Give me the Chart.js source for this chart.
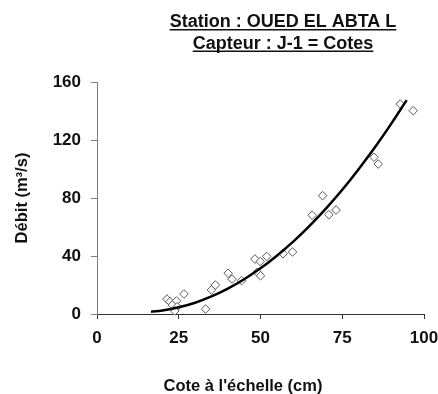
<!DOCTYPE html>
<html>
<head>
<meta charset="utf-8">
<script src="https://cdn.jsdelivr.net/npm/chart.js@4"></script>
<style>
  body { margin: 0; background: #fff; }
  #box { width: 438px; height: 394px; }
</style>
</head>
<body>
<div id="box"><canvas id="graphe" width="438" height="394"></canvas></div>
<script>
// Jaugeages : cote (cm) et débit (m3/s)
const coteX = [21.4, 22.3, 24.3, 26.6, 23.0, 24.5, 23.8, 33.2, 35.0, 36.2, 40.1, 41.3, 44.2, 48.3,
               49.9, 51.9, 49.0, 50.0, 56.9, 59.8, 65.8, 69.0, 70.9, 73.1, 84.7, 86.0, 92.7, 96.7];
const debitY = [10.3, 8.5, 9.0, 13.8, 6.2, 5.0, 2.1, 3.4, 16.6, 20.0, 28.1, 24.1, 23.0, 37.9,
                36.2, 39.7, 28.8, 26.4, 41.6, 42.8, 68.1, 81.6, 68.5, 71.7, 108.1, 103.4, 144.8, 140.2];

// Courbe de tarage
const courbeX = [16.5, 20, 25, 30, 35, 40, 45, 50, 55, 60, 65, 70, 75, 80, 85, 90, 94.7];
const courbeY = [1.6, 2.4, 4.6, 7.8, 12.1, 17.5, 24.0, 31.5, 40.2, 49.9, 60.8, 72.7, 85.7, 99.9, 115.0, 131.3, 147.5];

const xTicks = [0, 25, 50, 75, 100];
const yTicks = [0, 40, 80, 120, 160];

const titreLignes = ['Station : OUED EL ABTA L', 'Capteur : J-1 = Cotes'];
const titreX = "Cote à l'échelle (cm)";
const titreY = 'Débit (m³/s)';

const police = '"Liberation Sans", Arial, sans-serif';

const points = coteX.map((x, i) => ({x: x, y: debitY[i]}));
const courbe = courbeX.map((x, i) => ({x: x, y: courbeY[i]}));

// titre souligné + titre de l'axe X
const textesPlugin = {
    id: 'textes',
    afterDraw(chart) {
        const ctx = chart.ctx;
        ctx.save();
        ctx.fillStyle = '#111';
        ctx.strokeStyle = '#111';
        ctx.textAlign = 'center';
        ctx.textBaseline = 'alphabetic';
        ctx.font = 'bold 18px ' + police;
        titreLignes.forEach((t, i) => {
            const y = 27 + i * 21.5;
            ctx.fillText(t, 283, y);
            const w = ctx.measureText(t).width;
            ctx.lineWidth = 1.5;
            ctx.beginPath();
            ctx.moveTo(283 - w / 2, y + 2.8);
            ctx.lineTo(283 + w / 2, y + 2.8);
            ctx.stroke();
        });
        ctx.font = 'bold 16.5px ' + police;
        ctx.fillText(titreX, 243, 391);
        ctx.restore();
    }
};

const ctx = document.getElementById('graphe').getContext('2d');
new Chart(ctx, {
    type: 'scatter',
    data: {
        datasets: [
            {
                label: 'Courbe',
                data: courbe,
                showLine: true,
                borderColor: '#000',
                borderWidth: 2.5,
                pointRadius: 0,
                tension: 0.4,
                fill: false
            },
            {
                label: 'Jaugeages',
                data: points,
                pointStyle: 'rectRot',
                pointRadius: 4.3,
                pointBorderWidth: 1,
                pointBorderColor: '#5a5a5a',
                pointBackgroundColor: '#fff',
                showLine: false
            }
        ]
    },
    options: {
        responsive: false,
        devicePixelRatio: 1,
        animation: false,
        clip: false,
        layout: {padding: {top: 82, right: 14, bottom: 0, left: 0}},
        plugins: {
            legend: {display: false},
            tooltip: {enabled: false}
        },
        scales: {
            x: {
                type: 'linear',
                min: 0,
                max: 100,
                afterBuildTicks: (s) => { s.ticks = xTicks.map(v => ({value: v})); },
                afterFit: (s) => { s.height = 80; s.paddingRight = 0; s.paddingLeft = 0; },
                border: {display: true, color: '#333', width: 1},
                grid: {display: true, drawOnChartArea: false, drawTicks: true, tickLength: 5, color: '#333'},
                ticks: {padding: 9, color: '#111', font: {family: police, size: 17, weight: 'bold'}}
            },
            y: {
                type: 'linear',
                min: 0,
                max: 160,
                afterBuildTicks: (s) => { s.ticks = yTicks.map(v => ({value: v})); },
                afterFit: (s) => { s.width = 97; s.paddingTop = 0; s.paddingBottom = 0; },
                border: {display: true, color: '#808080', width: 1},
                grid: {display: true, drawOnChartArea: false, drawTicks: true, tickLength: 6, color: '#808080'},
                ticks: {padding: 10, color: '#111', font: {family: police, size: 17, weight: 'bold'}},
                title: {
                    display: true,
                    text: titreY,
                    color: '#111',
                    padding: {top: 13, bottom: 0},
                    font: {family: police, size: 16.5, weight: 'bold'}
                }
            }
        }
    },
    plugins: [textesPlugin]
});
</script>
</body>
</html>
